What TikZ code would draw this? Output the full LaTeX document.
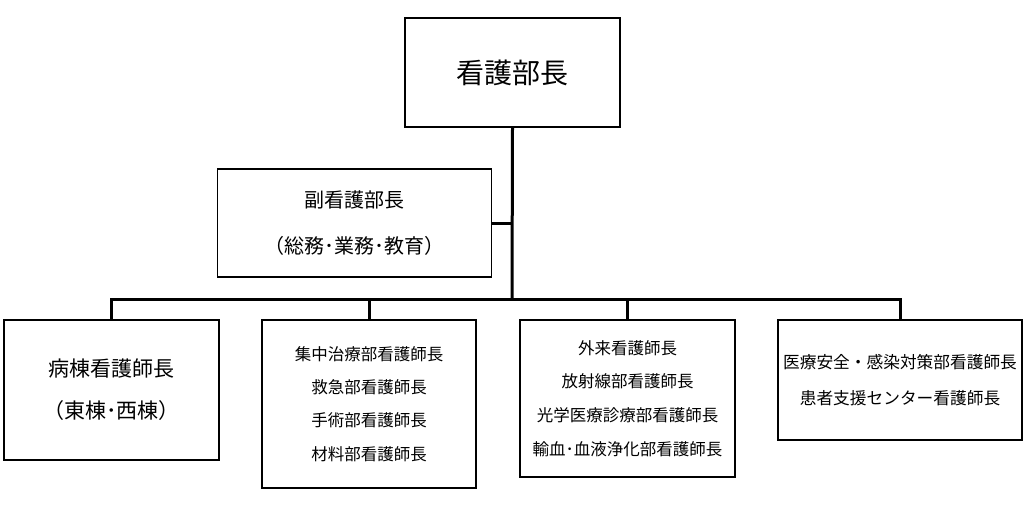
\documentclass[tikz,border=0pt]{standalone}
\usepackage{fontspec}
\newfontfamily\jp{Noto Sans CJK JP}
\begin{document}
\begin{tikzpicture}[x=1pt,y=-1pt,
  box/.style={draw=black,line width=1.4pt,inner sep=0pt,align=center,jp},
  conn/.style={draw=black,line width=3pt},
  jp/.style={font=\jp}]
\useasboundingbox (0,0) rectangle (1033,505);
\node[box,minimum width=215,minimum height=109,font=\jp\fontsize{28}{30}\selectfont] (top) at (512.5,72.5) {看護部長};
\node[box,minimum width=274,minimum height=108,font=\jp\fontsize{20}{46}\selectfont] (dep) at (354.5,223) {副看護部長\\（総務･業務･教育）};
\node[box,minimum width=215,minimum height=140,font=\jp\fontsize{21}{42}\selectfont] (b1) at (111.5,390) {病棟看護師長\\（東棟･西棟）};
\node[box,minimum width=214,minimum height=168,font=\jp\fontsize{16.5}{33.3}\selectfont] (b2) at (369,404) {集中治療部看護師長\\救急部看護師長\\手術部看護師長\\材料部看護師長};
\node[box,minimum width=215,minimum height=157,font=\jp\fontsize{16.5}{33.7}\selectfont] (b3) at (627.5,398.5) {外来看護師長\\放射線部看護師長\\光学医療診療部看護師長\\輸血･血液浄化部看護師長};
\node[box,minimum width=244,minimum height=120,font=\jp\fontsize{16.7}{36}\selectfont] (b4) at (900,380) {医療安全・感染対策部看護師長\\患者支援センター看護師長};
\coordinate (j) at (512,299);
\draw[conn] (top.south) -- (j);
\draw[conn] (dep.east) -- (dep.east -| top.south);
\draw[conn] (b1.north) |- (j) -| (b4.north);
\draw[conn] (b2.north) -- (b2.north |- j);
\draw[conn] (b3.north) -- (b3.north |- j);
\end{tikzpicture}
\end{document}
